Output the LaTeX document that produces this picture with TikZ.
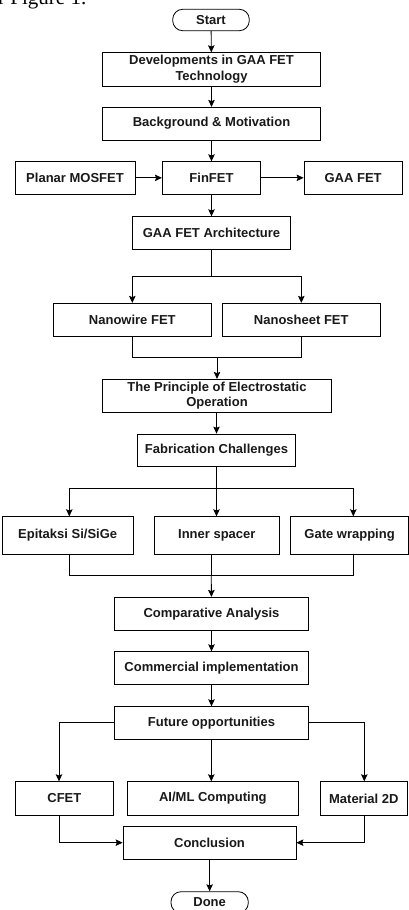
\documentclass[tikz,border=0pt]{standalone}
\usepackage{fontspec}
\setmainfont{Liberation Sans}
\newfontfamily\serifx{Liberation Serif}
\usetikzlibrary{arrows.meta}
\tikzset{
  box/.style={draw=black, line width=0.8pt, fill=white, inner sep=2pt, align=center,
    font=\bfseries\fontsize{13}{15.6}\selectfont, text=black!90},
  pill/.style={box, rounded corners=10pt},
  ln/.style={draw=black, line width=0.8pt},
  arr/.style={ln, -{Stealth[length=7pt,width=6.5pt,inset=1.2pt]}}
}
\begin{document}
\begin{tikzpicture}[x=1pt,y=-1pt]
\useasboundingbox (0,0) rectangle (409,910);
\clip (0,0) rectangle (409,910);
\node[anchor=base west, inner sep=0pt, font=\serifx\fontsize{21}{21}\selectfont] (fig) at (-2,5) {r Figure 1.};

\node[pill, minimum width=76.6pt, minimum height=21.4pt] (start) at (211,20) {Start};
\node[box, minimum width=218.4pt, minimum height=33.3pt] (dev) at (211.5,69.35) {Developments in GAA FET\\Technology};
\node[box, minimum width=218.4pt, minimum height=32.7pt] (bg) at (211.5,123.65) {Background \& Motivation};
\node[box, minimum width=120pt, minimum height=32.3pt] (planar) at (75,177.85) {Planar MOSFET};
\node[box, minimum width=98.4pt, minimum height=32.3pt] (fin) at (211.5,177.85) {FinFET};
\node[box, minimum width=98.3pt, minimum height=32.3pt] (gaa) at (353.15,177.85) {GAA FET};
\node[box, minimum width=158.4pt, minimum height=32.3pt] (arch) at (211.5,232.85) {GAA FET Architecture};
\node[box, minimum width=158pt, minimum height=32.7pt] (wire) at (132.3,319.65) {Nanowire FET};
\node[box, minimum width=158pt, minimum height=32.7pt] (sheet) at (301.3,319.65) {Nanosheet FET};
\node[box, minimum width=229.4pt, minimum height=33pt] (princ) at (217,395.8) {The Principle of Electrostatic\\Operation};
\node[box, minimum width=158.4pt, minimum height=32pt] (fab) at (216.5,450) {Fabrication Challenges};
\node[box, minimum width=131.3pt, minimum height=37.3pt] (epi) at (67.65,535.35) {Epitaksi Si/SiGe};
\node[box, minimum width=125pt, minimum height=37.3pt] (inner) at (216.8,535.35) {Inner spacer};
\node[box, minimum width=118.5pt, minimum height=37.3pt] (gate) at (349.6,535.35) {Gate wrapping};
\node[box, minimum width=193.6pt, minimum height=32.7pt] (comp) at (211.5,613.65) {Comparative Analysis};
\node[box, minimum width=193.6pt, minimum height=32.6pt] (comm) at (211.5,668) {Commercial implementation};
\node[box, minimum width=193.6pt, minimum height=32.3pt] (fut) at (211.5,722.85) {Future opportunities};
\node[box, minimum width=98.7pt, minimum height=33.6pt] (cfet) at (64.35,798.5) {CFET};
\node[box, minimum width=171.7pt, minimum height=33.6pt] (aiml) at (212.85,798.5) {AI/ML Computing};
\node[box, minimum width=87pt, minimum height=33.6pt] (mat) at (363.8,798.5) {Material 2D};
\node[box, minimum width=173pt, minimum height=32.7pt] (conc) at (209.5,842.65) {Conclusion};
\node[pill, minimum width=77.3pt, minimum height=21.3pt] (done) at (209.65,902.35) {Done};

\coordinate (b1) at (211.5,276.7);
\coordinate (j1) at (217,357.7);
\coordinate (b2) at (216.5,488.3);
\coordinate (j2) at (211.3,575);

\draw[arr] (start) -- (dev);
\draw[arr] (dev) -- (bg);
\draw[arr] (bg) -- (fin);
\draw[arr] (planar) -- (fin);
\draw[arr] (fin) -- (gaa);
\draw[arr] (fin) -- (arch);
\draw[ln] (arch) -- (b1);
\draw[arr] (b1) -| (wire.north);
\draw[arr] (b1) -| (sheet.north);
\draw[ln] (wire.south) |- (j1);
\draw[ln] (sheet.south) |- (j1);
\draw[arr] (j1) -- (princ);
\draw[arr] (princ.south -| fab) -- (fab);
\draw[ln] (fab) -- (b2);
\draw[arr] (b2) -| ([xshift=1.65pt]epi.north);
\draw[arr] (b2) -- (b2 |- inner.north);
\draw[arr] (b2) -| ([xshift=3.7pt]gate.north);
\draw[ln] ([xshift=1.65pt]epi.south) |- (j2);
\draw[ln] ([xshift=3.7pt]gate.south) |- (j2);
\draw[ln] (inner.south -| j2) -- (j2);
\draw[arr] (j2) -- (comp);
\draw[arr] (comp) -- (comm);
\draw[arr] (comm) -- (fut);
\draw[arr] (fut.west) -| ([xshift=-5.35pt]cfet.north);
\draw[arr] (fut.east) -| ([xshift=0.5pt]mat.north);
\draw[arr] (fut.south -| j2) -- (j2 |- aiml.north);
\draw[arr] ([xshift=-5.35pt]cfet.south) |- (conc.west);
\draw[arr] ([xshift=0.5pt]mat.south) |- (conc.east);
\draw[arr] (conc.south -| done) -- (done);
\end{tikzpicture}
\end{document}
